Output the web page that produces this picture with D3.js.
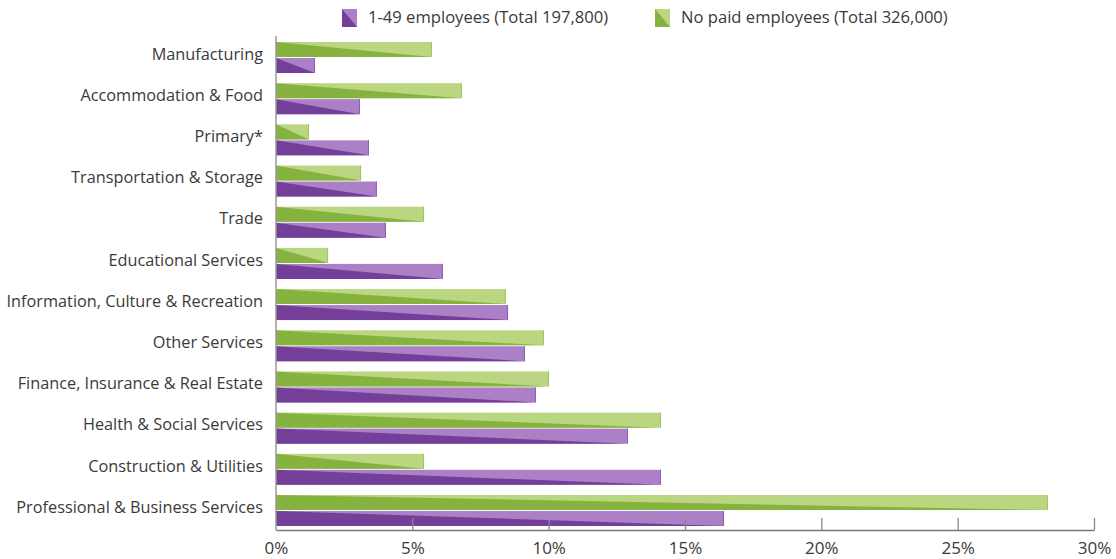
<!DOCTYPE html>
<html><head><meta charset="utf-8">
<script src="https://cdn.jsdelivr.net/npm/d3@7"></script>
<style>
body{margin:0;background:#fff;}
text{font-family:"Open Sans",sans-serif;fill:#3a3a3a;}
</style></head>
<body><svg id="c" width="1116" height="559"></svg>
<script>
const categories = ["Manufacturing","Accommodation & Food","Primary*","Transportation & Storage","Trade","Educational Services","Information, Culture & Recreation","Other Services","Finance, Insurance & Real Estate","Health & Social Services","Construction & Utilities","Professional & Business Services"];
const noPaid = [5.72,6.82,1.21,3.12,5.43,1.91,8.43,9.83,10.01,14.12,5.43,28.31];
const small = [1.43,3.08,3.41,3.70,4.03,6.12,8.51,9.13,9.53,12.91,14.12,16.43];
const legendNames = ["1-49 employees (Total 197,800)","No paid employees (Total 326,000)"];
const xTicks = [0,5,10,15,20,25,30];

const colors = {
  green:{dark:"#86b33f",light:"#bbd681",edge:"#9fc65f"},
  purple:{dark:"#743f98",light:"#ab80c6",edge:"#8e5cb0"}
};

const svg = d3.select("#c");
const x = d3.scaleLinear().domain([0,30]).range([276,1094]);
const y = d3.scaleBand().domain(categories).range([42,526]).paddingInner(0.247).paddingOuter(0);
const sub = d3.scaleBand().domain(["noPaid","small"]).range([0,y.bandwidth()]).paddingInner(0.06);

const data = categories.map((c,i)=>({c, vals:[{k:"noPaid",v:noPaid[i],col:colors.green},{k:"small",v:small[i],col:colors.purple}]}));

function splitBar(g, x0, y0, w, h, col){
  g.append("rect").attr("x",x0).attr("y",y0).attr("width",w).attr("height",h).attr("fill",col.light);
  g.append("path").attr("d",`M${x0},${y0}L${x0+w},${y0+h}L${x0},${y0+h}Z`).attr("fill",col.dark);
  g.append("line").attr("x1",x0+w-0.5).attr("x2",x0+w-0.5).attr("y1",y0).attr("y2",y0+h).attr("stroke",col.edge).attr("stroke-width",1);
}

const groups = svg.append("g").selectAll("g").data(data).join("g").attr("transform",d=>`translate(0,${y(d.c)})`);
groups.each(function(d){
  const g = d3.select(this);
  d.vals.forEach(s=>{
    splitBar(g, x(0), sub(s.k), x(s.v)-x(0), sub.bandwidth(), s.col);
  });
});

// category labels
svg.append("g").selectAll("text").data(categories).join("text")
  .attr("x",263).attr("y",c=>y(c)+y.bandwidth()/2-3.5).attr("dy","0.35em")
  .attr("text-anchor","end").attr("font-size","16.3px").text(c=>c);

// y axis line
svg.append("line").attr("x1",276).attr("x2",276).attr("y1",36).attr("y2",530.5).attr("stroke","#999").attr("stroke-width",1.5);

// x axis
const xAxis = d3.axisBottom(x).tickValues(xTicks).tickFormat(d=>d+"%").tickSize(0).tickPadding(12);
const ax = svg.append("g").attr("transform","translate(0,530)").call(xAxis);
ax.select(".domain").attr("stroke","#777").attr("stroke-width",1.3);
ax.selectAll("text").attr("font-size","17px").attr("fill","#3a3a3a").style("font-family","'Open Sans',sans-serif");
ax.selectAll(".tick").filter(d=>d>0).append("line").attr("y1",0).attr("y2",-12).attr("stroke","#888").attr("stroke-width",1.3);

// legend
const leg = [{name:legendNames[0],col:colors.purple,x:342},{name:legendNames[1],col:colors.green,x:655}];
const lg = svg.append("g");
leg.forEach(l=>{
  const g = lg.append("g");
  g.append("rect").attr("x",l.x).attr("y",9).attr("width",15).attr("height",18).attr("fill",l.col.light);
  g.append("path").attr("d",`M${l.x},9L${l.x+15},27L${l.x},27Z`).attr("fill",l.col.dark);
  g.append("text").attr("x",l.x+26).attr("y",17.5).attr("dy","0.35em").attr("font-size","16.6px").text(l.name);
});
</script></body></html>
